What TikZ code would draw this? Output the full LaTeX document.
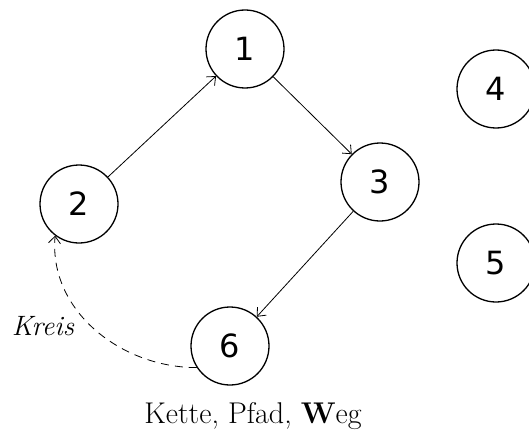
\documentclass[tikz,border=0pt]{standalone}
\usepackage{fontspec}
\newfontfamily\numfont{DejaVu Sans}
\usetikzlibrary{arrows.meta}
\begin{document}
\begin{tikzpicture}[x=1pt,y=-1pt,
  vertex/.style={circle,draw,line width=1.3pt,minimum size=78pt,inner sep=0pt,font=\numfont\fontsize{32}{32}\selectfont},
  edge/.style={line width=0.8pt,-{Straight Barb[length=7pt,width=12pt,line width=0.8pt]}},
  lbl/.style={inner sep=0pt,anchor=base}]
\useasboundingbox (0,0) rectangle (529,441);
\clip (0,0) rectangle (529,441);
\node[vertex] (n1) at (245,49) {1};
\node[vertex] (n2) at (79,204) {2};
\node[vertex] (n3) at (380,182) {3};
\node[vertex] (n4) at (496,89) {4};
\node[vertex] (n5) at (496,263) {5};
\node[vertex] (n6) at (230,346) {6};
\draw[edge] (n2) -- (n1);
\draw[edge] (n1) -- (n3);
\draw[edge] (n3) -- (n6);
\draw[edge,dash pattern=on 8pt off 6pt] (n6.213) to[out=180,in=265] (n2.233);
\node[lbl,font=\fontsize{28}{28}\selectfont\itshape] (kreis) at (43,335) {Kreis};
\node[lbl,font=\fontsize{30}{30}\selectfont] (title) at (253,423) {Kette, Pfad, \textbf{W}eg};
\end{tikzpicture}
\end{document}
